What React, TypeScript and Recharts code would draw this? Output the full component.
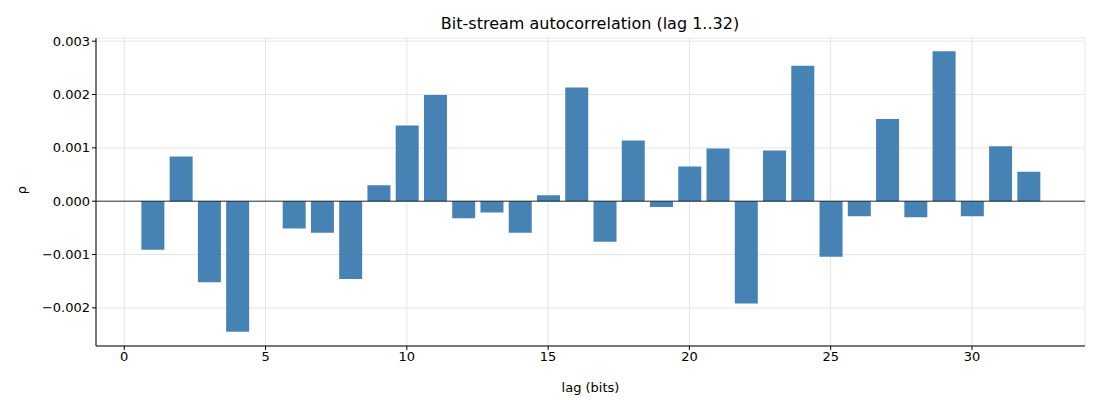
import { Bar, BarChart, CartesianGrid, ReferenceLine, XAxis, YAxis } from "recharts";

const lags = [1,2,3,4,5,6,7,8,9,10,11,12,13,14,15,16,17,18,19,20,21,22,23,24,25,26,27,28,29,30,31,32];
const rho = [
  -0.00091, 0.00084, -0.00152, -0.00245, 0, -0.00051, -0.00059, -0.00146,
  0.0003, 0.00142, 0.00199, -0.00032, -0.00021, -0.00059, 0.00011, 0.00213,
  -0.00076, 0.00114, -0.00011, 0.00065, 0.00099, -0.00192, 0.00095, 0.00254,
  -0.00104, -0.00028, 0.00154, -0.0003, 0.00281, -0.00028, 0.00103, 0.00055,
];
const xTicks = [0, 5, 10, 15, 20, 25, 30];
const yTicks = [-0.002, -0.001, 0, 0.001, 0.002, 0.003];

const data = lags.map((lag, i) => ({ lag, rho: rho[i] }));
const fmt = (v: number) => (v < 0 ? "\u2212" : "") + Math.abs(v).toFixed(3);
const font = "DejaVu Sans, sans-serif";

export default function App() {
  return (
    <div style={{ position: "absolute", left: 0, top: 0, width: 1100, height: 400, background: "#fff", fontFamily: font }}>
      <BarChart width={1100} height={400} data={data} margin={{ top: 38, right: 15, bottom: 24, left: 20 }}>
        <text x={590} y={29} textAnchor="middle" fontSize={16} fill="#000">Bit-stream autocorrelation (lag 1..32)</text>
        <text x={26} y={190} textAnchor="middle" fontSize={13} fill="#000" transform="rotate(-90 26 190)">ρ</text>
        <CartesianGrid stroke="#e5e5e5" />
        <XAxis dataKey="lag" type="number" domain={[-1, 34]} ticks={xTicks} tick={{ fill: "#000", fontSize: 13 }}
          tickSize={4} stroke="#000" label={{ value: "lag (bits)", position: "insideBottom", offset: -16, fill: "#000", fontSize: 13 }} />
        <YAxis type="number" domain={[-0.002715, 0.00306]} ticks={yTicks} tickFormatter={fmt} width={76}
          tick={{ fill: "#000", fontSize: 13 }} tickSize={4} stroke="#000" allowDataOverflow />
        <ReferenceLine y={0} stroke="#000" strokeWidth={0.8} />
        <Bar dataKey="rho" fill="#4682b4" barSize={23} isAnimationActive={false} />
      </BarChart>
    </div>
  );
}
